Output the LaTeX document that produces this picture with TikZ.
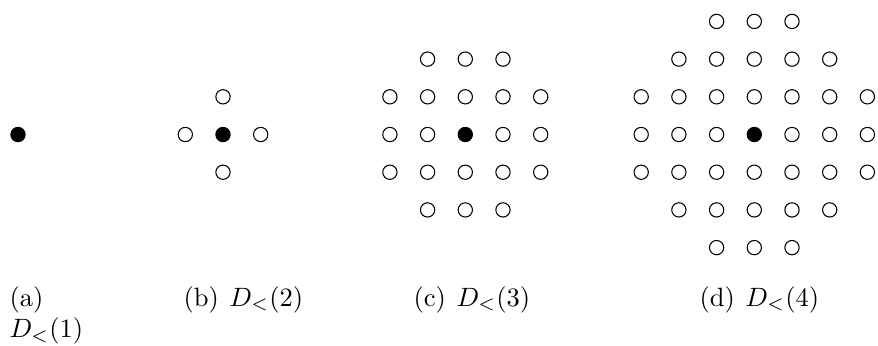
\documentclass[tikz,border=0pt]{standalone}
\begin{document}
\begin{tikzpicture}[x=0.3774pt,y=-0.3774pt,
  dotopen/.style={circle,draw=black,line width=0.4pt,inner sep=0pt,minimum size=5.4pt},
  dotfull/.style={dotopen,fill=black},
  caplabel/.style={anchor=base west,inner sep=0pt,font=\normalsize}]
\useasboundingbox (0,0) rectangle (878,345);
% (a)
\node[dotfull] (a0y0) at (18,134.5) {};
% (b)
\foreach \j/\w in {-1/0,0/1,1/0}{
  \foreach \i in {-\w,...,\w}{
    \def\st{dotopen}\ifnum\i=0 \ifnum\j=0 \def\st{dotfull}\fi\fi
    \node[\st] (b\i y\j) at ({223+37.7*\i},{134.5+37.7*\j}) {};
  }
}
% (c)
\foreach \j/\w in {-2/1,-1/2,0/2,1/2,2/1}{
  \foreach \i in {-\w,...,\w}{
    \def\st{dotopen}\ifnum\i=0 \ifnum\j=0 \def\st{dotfull}\fi\fi
    \node[\st] (c\i y\j) at ({465.3+37.7*\i},{134.5+37.7*\j}) {};
  }
}
% (d)
\foreach \j/\w in {-3/1,-2/2,-1/3,0/3,1/3,2/2,3/1}{
  \foreach \i in {-\w,...,\w}{
    \def\st{dotopen}\ifnum\i=0 \ifnum\j=0 \def\st{dotfull}\fi\fi
    \node[\st] (d\i y\j) at ({754.3+37.7*\i},{134.5+37.7*\j}) {};
  }
}
% captions
\node[caplabel] (capa1) at (9,306) {(a)};
\node[caplabel] (capa2) at (9,337.8) {$D_<(1)$};
\node[caplabel] (capb) at (183,306) {(b)\hspace{4pt}$D_<(2)$};
\node[caplabel] (capc) at (413,306) {(c)\hspace{4pt}$D_<(3)$};
\node[caplabel] (capd) at (699,306) {(d)\hspace{4pt}$D_<(4)$};
\end{tikzpicture}
\end{document}
